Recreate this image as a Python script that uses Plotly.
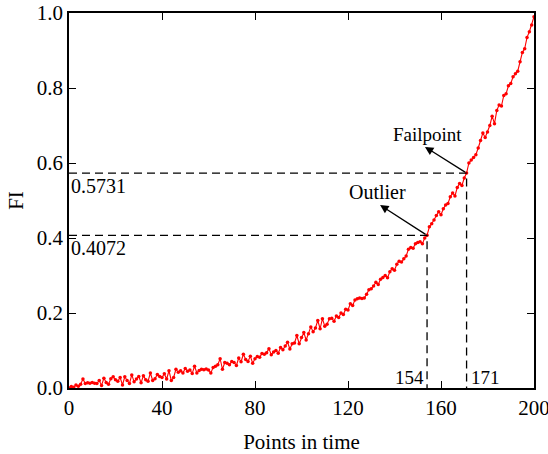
import plotly.graph_objects as go

x_points = list(range(0, 201))
fi_values = [
    0.000, 0.004, 0.002, 0.008, 0.005, 0.010, 0.024, 0.012, 0.014, 0.013,
    0.015, 0.013, 0.012, 0.020, 0.007, 0.026, 0.015, 0.010, 0.025, 0.030,
    0.022, 0.018, 0.028, 0.008, 0.030, 0.020, 0.012, 0.035, 0.017, 0.024,
    0.031, 0.014, 0.033, 0.022, 0.018, 0.040, 0.020, 0.025, 0.036, 0.031,
    0.028, 0.038, 0.024, 0.046, 0.020, 0.028, 0.050, 0.042, 0.046, 0.040,
    0.052, 0.045, 0.048, 0.039, 0.058, 0.040, 0.047, 0.050, 0.049, 0.051,
    0.048, 0.040, 0.055, 0.058, 0.062, 0.078, 0.050, 0.068, 0.066, 0.062,
    0.071, 0.068, 0.060, 0.080, 0.070, 0.090, 0.076, 0.071, 0.085, 0.066,
    0.078, 0.084, 0.082, 0.092, 0.090, 0.094, 0.105, 0.089, 0.096, 0.100,
    0.093, 0.108, 0.102, 0.112, 0.122, 0.104, 0.118, 0.120, 0.140, 0.118,
    0.135, 0.148, 0.128, 0.145, 0.163, 0.150, 0.160, 0.180, 0.158, 0.185,
    0.165, 0.170, 0.185, 0.186, 0.178, 0.192, 0.188, 0.200, 0.196, 0.210,
    0.208, 0.225, 0.220, 0.235, 0.238, 0.240, 0.239, 0.240, 0.250, 0.262,
    0.265, 0.272, 0.282, 0.276, 0.290, 0.295, 0.300, 0.294, 0.310, 0.318,
    0.314, 0.330, 0.338, 0.336, 0.345, 0.352, 0.370, 0.375, 0.373, 0.385,
    0.388, 0.390, 0.385, 0.400, 0.4072, 0.430, 0.438, 0.448, 0.460, 0.470,
    0.462, 0.478, 0.488, 0.492, 0.510, 0.520, 0.512, 0.535, 0.545, 0.540,
    0.560, 0.5731, 0.600, 0.608, 0.615, 0.622, 0.640, 0.660, 0.680, 0.668,
    0.683, 0.700, 0.725, 0.705, 0.740, 0.755, 0.752, 0.780, 0.785, 0.806,
    0.812, 0.830, 0.838, 0.845, 0.870, 0.895, 0.905, 0.935, 0.950, 0.968,
    0.990,
]

outlier_x, outlier_y = 154, 0.4072
failpoint_x, failpoint_y = 171, 0.5731
x_ticks = [0, 40, 80, 120, 160, 200]
y_ticks = [0.0, 0.2, 0.4, 0.6, 0.8, 1.0]

FONT = "Liberation Serif, Times New Roman, serif"

fig = go.Figure()
fig.add_trace(go.Scatter(
    x=x_points, y=fi_values, mode="lines+markers",
    line=dict(color="red", width=1.1),
    marker=dict(color="red", size=3.5),
    showlegend=False,
))

for px_, py_ in [(outlier_x, outlier_y), (failpoint_x, failpoint_y)]:
    fig.add_trace(go.Scatter(
        x=[0, px_, px_], y=[py_, py_, 0], mode="lines",
        line=dict(color="black", width=1.3, dash="8px,5px"),
        showlegend=False, hoverinfo="skip",
    ))

ann = []
ann.append(dict(x=0, y=outlier_y, xref="x", yref="y", text=f"{outlier_y:.4f}",
                showarrow=False, xanchor="left", yanchor="top", xshift=0, yshift=0,
                font=dict(family=FONT, size=20, color="black")))
ann.append(dict(x=0, y=failpoint_y, xref="x", yref="y", text=f"{failpoint_y:.4f}",
                showarrow=False, xanchor="left", yanchor="top", xshift=0, yshift=0,
                font=dict(family=FONT, size=20, color="black")))
ann.append(dict(x=outlier_x, y=0, xref="x", yref="y", text=str(outlier_x),
                showarrow=False, xanchor="right", yanchor="bottom", xshift=-1, yshift=-2,
                font=dict(family=FONT, size=19, color="black")))
ann.append(dict(x=failpoint_x, y=0, xref="x", yref="y", text=str(failpoint_x),
                showarrow=False, xanchor="left", yanchor="bottom", xshift=2, yshift=-2,
                font=dict(family=FONT, size=19, color="black")))
ann.append(dict(x=133.8, y=0.488, ax=outlier_x, ay=outlier_y, xref="x", yref="y",
                axref="x", ayref="y", text="", showarrow=True, arrowhead=2,
                arrowsize=1.3, arrowwidth=1.3, arrowcolor="black"))
ann.append(dict(x=153.1, y=0.643, ax=failpoint_x, ay=failpoint_y, xref="x", yref="y",
                axref="x", ayref="y", text="", showarrow=True, arrowhead=2,
                arrowsize=1.3, arrowwidth=1.3, arrowcolor="black"))
ann.append(dict(x=132.5, y=0.523, xref="x", yref="y", text="Outlier", showarrow=False,
                font=dict(family=FONT, size=20, color="black")))
ann.append(dict(x=154.4, y=0.675, xref="x", yref="y", text="Failpoint", showarrow=False,
                font=dict(family=FONT, size=19, color="black")))

fig.update_layout(
    width=548, height=454,
    margin=dict(l=69, r=14, t=13, b=66),
    paper_bgcolor="white", plot_bgcolor="white",
    font=dict(family=FONT, size=21, color="black"),
    annotations=ann,
    xaxis=dict(
        range=[0, 200], tickvals=x_ticks, ticktext=[str(v) for v in x_ticks],
        ticks="inside", ticklen=7, tickwidth=1.3, tickcolor="black",
        showline=True, linecolor="black", linewidth=1.5, mirror="ticks",
        showgrid=False, zeroline=False, automargin=False, ticklabeloverflow="allow",
        title=dict(text="Points in time", font=dict(family=FONT, size=21), standoff=16),
        tickfont=dict(family=FONT, size=21),
    ),
    yaxis=dict(
        range=[0, 1.0], tickvals=y_ticks, ticktext=[f"{v:.1f}" for v in y_ticks],
        ticks="inside", ticklen=7, tickwidth=1.3, tickcolor="black",
        showline=True, linecolor="black", linewidth=1.5, mirror="ticks",
        showgrid=False, zeroline=False, automargin=False, ticklabeloverflow="allow",
        title=dict(text="FI", font=dict(family=FONT, size=21), standoff=7),
        tickfont=dict(family=FONT, size=21),
    ),
)

fig.write_html("out.html", config={"displayModeBar": False},
               post_script="document.body.style.margin='0';")
